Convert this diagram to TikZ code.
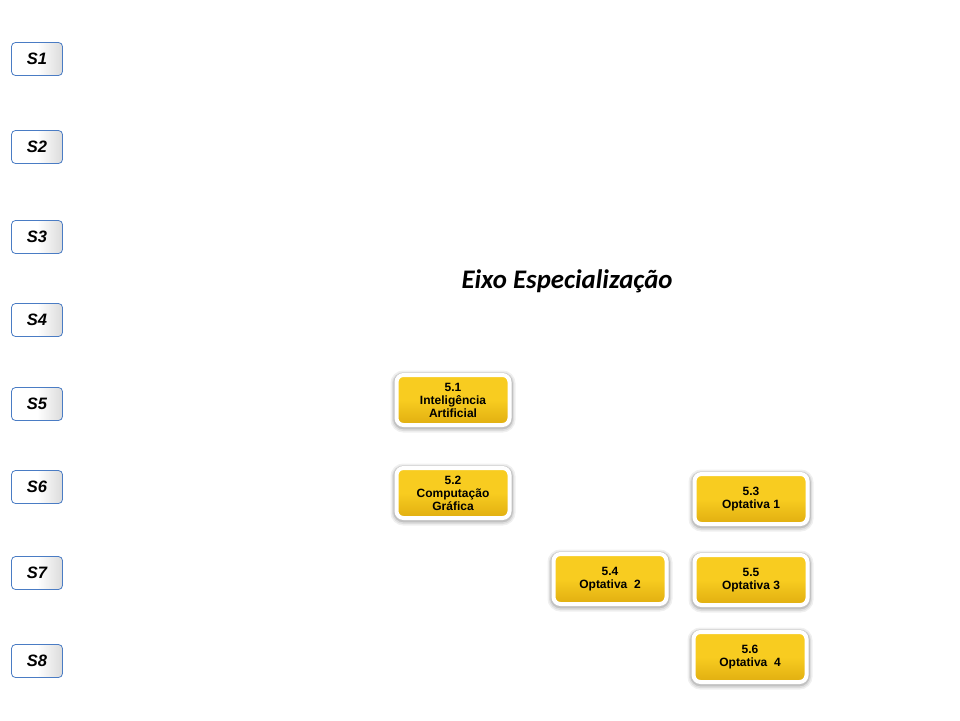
\documentclass[tikz,border=0pt]{standalone}
\usepackage{fontspec}
\setmainfont{Liberation Sans}
\newfontfamily\titlefont{Carlito}
\usetikzlibrary{shadows,shadings}
\definecolor{sblue}{HTML}{4A7CC4}
\definecolor{yel}{HTML}{F8CC20}
\definecolor{yeldark}{HTML}{E0AE10}
\tikzset{
  x=1pt,y=-1pt,
  sbox/.style={draw=sblue,line width=0.8pt,rounded corners=4pt,minimum width=51pt,minimum height=33pt,
    left color=white,right color=white!72!gray,middle color=white,
    font=\bfseries\itshape\fontsize{16.5}{18}\selectfont},
  ybox/.style={draw=white,line width=4pt,rounded corners=7pt,minimum width=113pt,minimum height=50pt,
    top color=yel,bottom color=yeldark,middle color=yel,
    preaction={draw=black,opacity=0.06,line width=12pt,transform canvas={yshift=-1.5pt}},
    preaction={draw=black,opacity=0.08,line width=9pt,transform canvas={yshift=-1.5pt}},
    preaction={draw=black,opacity=0.12,line width=6.5pt,transform canvas={yshift=-1pt}},
    align=center,font=\bfseries\fontsize{12}{13}\selectfont,inner sep=0pt},
}
\begin{document}
\begin{tikzpicture}
\useasboundingbox (0,0) rectangle (960,720);
\node[sbox] (s1) at (37,59) {S1};
\node[sbox] (s2) at (37,147) {S2};
\node[sbox] (s3) at (37,237) {S3};
\node[sbox] (s4) at (37,320) {S4};
\node[sbox] (s5) at (37,404) {S5};
\node[sbox] (s6) at (37,487) {S6};
\node[sbox] (s7) at (37,573) {S7};
\node[sbox] (s8) at (37,661) {S8};
\node[font=\titlefont\bfseries\itshape\fontsize{26.8}{30}\selectfont] (title) at (567,281) {Eixo Especialização};
\node[ybox] (n51) at (453,400) {5.1\\Inteligência\\Artificial};
\node[ybox] (n52) at (453,493) {5.2\\Computação\\Gráfica};
\node[ybox] (n53) at (751,499) {5.3\\Optativa 1};
\node[ybox] (n54) at (610,579) {5.4\\Optativa\ \ 2};
\node[ybox] (n55) at (751,580) {5.5\\Optativa 3};
\node[ybox] (n56) at (750,657) {5.6\\Optativa\ \ 4};
\end{tikzpicture}
\end{document}
